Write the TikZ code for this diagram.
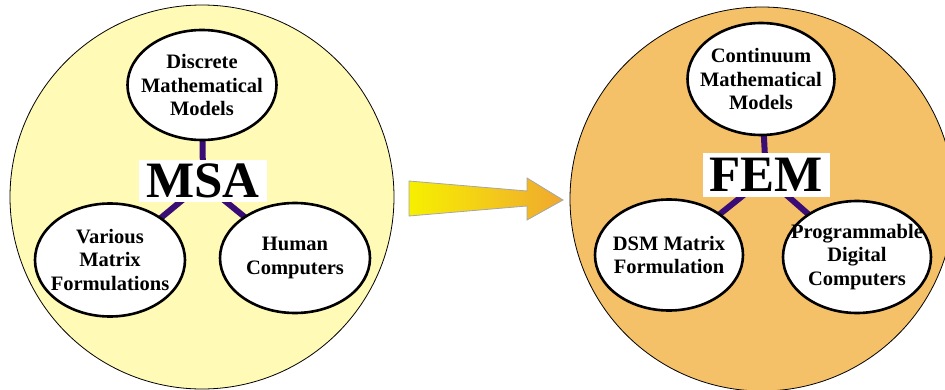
\documentclass[tikz,border=0pt]{standalone}
\usepackage{fontspec}
\setmainfont{Liberation Serif}
\usepackage{tikz}
\usetikzlibrary{shapes.geometric, positioning}
\definecolor{msaFill}{RGB}{255, 250, 182}
\definecolor{femFill}{RGB}{244, 192, 104}
\definecolor{linkColor}{RGB}{58, 12, 118}
\definecolor{arrowStart}{RGB}{246, 240, 0}
\definecolor{arrowEnd}{RGB}{240, 168, 48}
\pgfdeclarelayer{circles}
\pgfdeclarelayer{links}
\pgfsetlayers{circles,links,main}
\tikzset{
    big_circle/.style={
        circle,
        draw=black,
        line width=0.8pt,
        minimum size=384pt
    },
    topic_node/.style={
        ellipse,
        draw=black,
        line width=2.6pt,
        fill=white,
        inner xsep=-20pt,
        inner ysep=0pt,
        align=center,
        font=\fontsize{20.5}{23.5}\selectfont\bfseries
    },
    hub_label/.style={
        fill=white,
        inner sep=0pt,
        font=\fontsize{51}{51}\selectfont\bfseries
    },
    hub_link/.style={
        draw=linkColor,
        line width=6pt
    }
}
\begin{document}
\begin{tikzpicture}[x=1pt, y=1pt]
        \useasboundingbox (0,0) rectangle (945,389);
        \clip (0,0) rectangle (945,389);

        \begin{pgfonlayer}{circles}
        \node[big_circle, fill=msaFill] (msa_circle) at (202,192) {};
        \node[big_circle, fill=femFill] (fem_circle) at (762,190) {};
        \end{pgfonlayer}

        % MSA side
        \node[hub_label, minimum width=128pt, minimum height=42pt] (msa) at (203,208) {MSA};
        \node[topic_node, minimum width=149pt, minimum height=110pt] (discrete) at (202,304)
            {Discrete\\Mathematical\\Models};
        \node[topic_node, minimum width=150pt, minimum height=113pt] (various) at (110,129)
            {Various\\Matrix\\Formulations};
        \node[topic_node, minimum width=150pt, minimum height=110pt] (human) at (295,131)
            {Human\\Computers};

        % FEM side
        \node[hub_label, minimum width=127pt, minimum height=44pt] (fem) at (766,214) {FEM};
        \node[topic_node, minimum width=147pt, minimum height=112pt] (continuum) at (761,310)
            {Continuum\\Mathematical\\Models};
        \node[topic_node, minimum width=148pt, minimum height=111pt] (dsm) at (669,134)
            {DSM Matrix\\Formulation};
        \node[topic_node, minimum width=148pt, minimum height=112pt] (programmable) at (857,132)
            {Programmable\\Digital\\Computers};

        \begin{pgfonlayer}{links}
        \draw[hub_link] ([yshift=-2pt]msa.center) -- (discrete.center);
        \draw[hub_link] ([yshift=-2pt]msa.center) -- (various.center);
        \draw[hub_link] ([yshift=-2pt]msa.center) -- (human.center);
        \draw[hub_link] ([yshift=-2pt]fem.center) -- (continuum.center);
        \draw[hub_link] ([yshift=-2pt]fem.center) -- (dsm.center);
        \draw[hub_link] ([yshift=-2pt]fem.center) -- (programmable.center);
        \end{pgfonlayer}

        % transition arrow
        \coordinate (arrow_tip) at (563,189);
        \shadedraw[left color=arrowStart, right color=arrowEnd, draw=gray!70, line width=0.8pt]
            (409,208) -- (527,198) -- (527,211) -- (arrow_tip) -- (527,169)
            -- (527,183) -- (409,173) -- cycle;
    \end{tikzpicture}
\end{document}
